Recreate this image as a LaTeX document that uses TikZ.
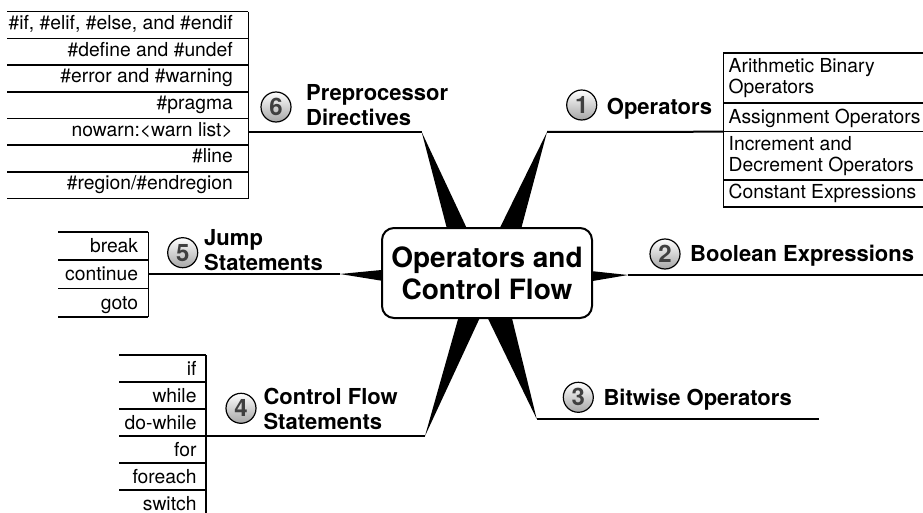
\documentclass[tikz,border=0pt]{standalone}
\usepackage{fontspec}
\setmainfont{TeX Gyre Heros}
\begin{document}
\begin{tikzpicture}[x=1pt,y=-1pt,
  spoke/.style={fill=black},
  branch/.style={line width=2pt},
  listline/.style={line width=1.6pt},
  item/.style={font=\fontsize{19.3}{21.5}\selectfont, inner sep=0pt, align=left},
  itemr/.style={font=\fontsize{19.3}{21.5}\selectfont, inner sep=0pt, anchor=base east},
  lbl/.style={font=\fontsize{22}{25}\selectfont\bfseries, inner sep=0pt, align=left, anchor=base west},
  num/.style={circle, draw=black, line width=1.2pt, minimum size=30pt, inner sep=0pt,
    top color=white, bottom color=black!35, text=black!75,
    font=\fontsize{24}{24}\selectfont\bfseries},
  hub/.style={draw, line width=2pt, rounded corners=12pt, fill=white,
    minimum width=210pt, minimum height=90pt, align=center,
    font=\fontsize{28}{32}\selectfont\bfseries}
]
\useasboundingbox (0,0) rectangle (923,513);

% tips of spokes
\coordinate (t1) at (547,132);
\coordinate (t2) at (628,275);
\coordinate (t3) at (536.7,419);
\coordinate (t4) at (425,436);
\coordinate (t5) at (340,274);
\coordinate (t6) at (421.7,132);

% spokes
\fill[spoke] (t6) -- (452,248) -- (476,248) -- cycle;
\fill[spoke] (t1) -- (490,248) -- (516,248) -- cycle;
\fill[spoke] (t2) -- (572,269) -- (572,284.5) -- cycle;
\fill[spoke] (t5) -- (402,268) -- (402,284) -- cycle;
\fill[spoke] (t3) -- (478,298) -- (507,298) -- cycle;
\fill[spoke] (t4) -- (464,298) -- (489,298) -- cycle;

% hub
\node[hub] (hub) at (487,273) {Operators and\\Control Flow};

% list ends of branches
\coordinate (e1) at (723.3,131.7);
\coordinate (e2) at (923,275);
\coordinate (e3) at (819,419);
\coordinate (e4) at (205.7,436);
\coordinate (e5) at (148.3,274);
\coordinate (e6) at (248.3,132);

\draw[branch] (t1) -- (e1);
\draw[branch] (t2) -- (e2);
\draw[branch] (t3) -- (e3);
\draw[branch] (t4) -- (e4);
\draw[branch] (t5) -- (e5);
\draw[branch] (t6) -- (e6);

% numbered circles and labels
\node[num] (n1) at (581.7,105) {1};
\node[lbl] (b1) at (606.7,115) {Operators};
\node[num] (n2) at (665,254) {2};
\node[lbl] (b2) at (690,261) {Boolean Expressions};
\node[num] (n3) at (578.3,397.3) {3};
\node[lbl] (b3) at (603.3,405) {Bitwise Operators};
\node[num] (n4) at (241,408.3) {4};
\node[lbl] (b4) at (263.3,429.3) {Control Flow\\Statements};
\node[num] (n5) at (182.7,252.7) {5};
\node[lbl] (b5) at (204,270) {Jump\\Statements};
\node[num] (n6) at (276,107) {6};
\node[lbl] (b6) at (306,126) {Preprocessor\\Directives};

% list 6 (top left)
\foreach \i in {0,...,7} \draw[listline] (7,11.7+26.7*\i) -- (248.3,11.7+26.7*\i);
\draw[listline] (248.3,11.7) -- (248.3,198.6);
\foreach \t [count=\i] in {{\#if, \#elif, \#else, and \#endif},{\#define and \#undef},{\#error and \#warning},{\#pragma},{nowarn:<warn list>},{\#line},{\#region/\#endregion}}
  \node[itemr] (p\i) at (233,11.7+26.7*\i-9) {\t};

% list 1 (top right)
\foreach \y in {53.3,103.3,131.7,180,206.7} \draw[listline] (723.3,\y) -- (923,\y);
\draw[listline] (723.3,53.3) -- (723.3,206.7);
\node[item, anchor=base west] (o1) at (728.5,94) {Arithmetic Binary\\Operators};
\node[item, anchor=base west] (o2) at (728.5,123.3) {Assignment Operators};
\node[item, anchor=base west] (o3) at (728.5,171.7) {Increment and\\Decrement Operators};
\node[item, anchor=base west] (o4) at (728.5,198) {Constant Expressions};

% list 5 (jump)
\foreach \y in {231.7,260,288.3,316.7} \draw[listline] (58.3,\y) -- (148.3,\y);
\draw[listline] (148.3,231.7) -- (148.3,316.7);
\node[itemr] (j1) at (138.3,252.5) {break};
\node[itemr] (j2) at (138.3,280.8) {continue};
\node[itemr] (j3) at (138.3,309.1) {goto};

% list 4 (control flow)
\foreach \i in {0,...,6} \draw[listline] (119,355+27*\i) -- (205.7,355+27*\i);
\draw[listline] (205.7,355) -- (205.7,517);
\foreach \t [count=\i] in {if,while,do-while,for,foreach,switch}
  \node[itemr] (c\i) at (196.7,355+27*\i-6.5) {\t};
\end{tikzpicture}
\end{document}
